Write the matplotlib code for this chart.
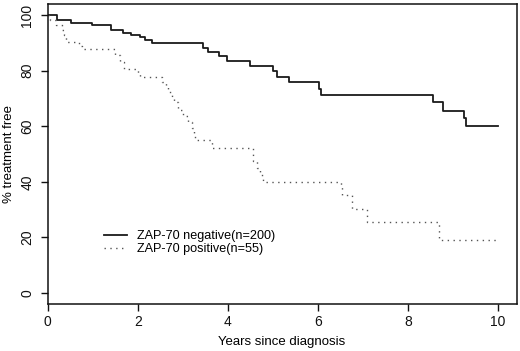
import matplotlib
matplotlib.use("Agg")
import matplotlib.pyplot as plt

# Kaplan-Meier style step data
neg_t = [0, 0.21, 0.51, 0.99, 1.40, 1.67, 1.86, 2.04, 2.16, 2.32, 3.44, 3.57, 3.81,
         3.98, 4.50, 5.00, 5.10, 5.35, 6.03, 6.07, 8.57, 8.78, 9.25, 9.29, 10.0]
neg_v = [100, 98.2, 97.2, 96.4, 94.6, 93.6, 92.8, 92.1, 91.0, 90.0, 88.0, 86.8, 85.3,
         83.5, 81.7, 79.8, 77.9, 75.8, 73.4, 71.3, 68.6, 65.4, 62.8, 60.0, 60.0]

pos_t = [0, 0.05, 0.18, 0.32, 0.36, 0.40, 0.70, 0.76, 1.50, 1.60,
         1.70, 2.00, 2.04, 2.53, 2.63, 2.68, 2.76, 2.81, 2.90, 3.01,
         3.12, 3.20, 3.24, 3.27, 3.65, 4.57, 4.64, 4.72, 4.76, 4.79,
         6.52, 6.54, 6.75, 6.77, 7.09, 8.70, 10.0]
pos_v = [100, 98.2, 96.4, 94.5, 92.7, 90.5, 88.8, 87.7, 85.7, 83.3,
         80.6, 78.9, 77.7, 76.1, 74.3, 72.2, 70.1, 68.6, 65.9, 63.8,
         61.7, 59.4, 56.9, 55.1, 52.0, 47.5, 45.0, 43.2, 41.5, 39.8,
         38.0, 35.1, 33.0, 30.2, 25.4, 19.0, 19.0]

labels = ["ZAP-70 negative(n=200)", "ZAP-70 positive(n=55)"]
xticks = [0, 2, 4, 6, 8, 10]
yticks = [0, 20, 40, 60, 80, 100]

plt.rcParams['font.family'] = ['Liberation Sans', 'DejaVu Sans']

fig = plt.figure(figsize=(5.2, 3.51), dpi=100)
ax = fig.add_axes([47.7/520, 1 - 304/351, (516.7-47.7)/520, 300/351])

ax.step(neg_t, neg_v, where='post', color='#1a1a1a', lw=1.3, label=labels[0])
ax.step(pos_t, pos_v, where='post', color='#555555', lw=1.0,
        linestyle=(0, (1, 3.2)), label=labels[1])

ax.set_xlim(0, 10.42)
ax.set_ylim(-4, 104)
ax.set_xticks(xticks)
ax.set_yticks(yticks)
ax.tick_params(direction='out', length=4.7, width=1.0, labelsize=10, colors='#111111')
ax.tick_params(axis='x', pad=3)
ax.tick_params(axis='y', pad=5)
for lab in ax.get_yticklabels():
    lab.set_rotation(90)
    lab.set_va('center')
for sp in ax.spines.values():
    sp.set_linewidth(1.1)
    sp.set_color('#111111')

leg = ax.legend(loc='upper left', bbox_to_anchor=((104.3 - 47.7) / 469, (104 - 226/2.775 + 4) / 108),
                frameon=False, fontsize=9.1, handlelength=1.8, handletextpad=0.76,
                labelspacing=0.1, borderpad=0, borderaxespad=0)

fig.text(9/520, 1 - 154/351, '% treatment free', rotation=90, ha='center', va='center', fontsize=9.5)
fig.text(282/520, 1 - 341.7/351, 'Years since diagnosis', ha='center', va='center', fontsize=9.5)

fig.savefig('out.png', dpi=100)
